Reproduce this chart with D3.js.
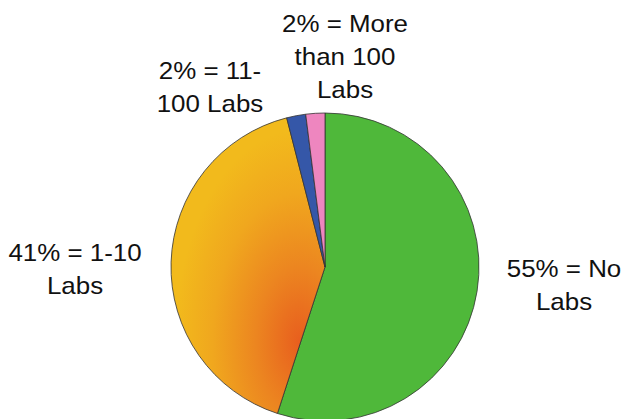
<!DOCTYPE html>
<html><head><meta charset="utf-8">
<script src="https://cdn.jsdelivr.net/npm/d3@7"></script>
<style>html,body{margin:0;padding:0;background:#fff;}svg{display:block;}</style>
</head><body>
<svg id="c" width="623" height="419"></svg>
<script>
const categories = ["No Labs", "1-10 Labs", "11-100 Labs", "More than 100 Labs"];
const values = [55, 41, 2, 2];
const labelLines = [
  ["55% = No", "Labs"],
  ["41% = 1-10", "Labs"],
  ["2% = 11-", "100 Labs"],
  ["2% = More", "than 100", "Labs"]
];
const colors = ["#4FB83A", "url(#og)", "#3557A8", "#EE86BF"];

const svg = d3.select("#c");
const cx = 325, cy = 267, r = 154;

const defs = svg.append("defs");
// coordinates relative to pie centre (gradient is used inside translated group)
const g0 = defs.append("radialGradient").attr("id", "og")
  .attr("gradientUnits", "userSpaceOnUse")
  .attr("cx", 0).attr("cy", 0).attr("r", 125)
  .attr("gradientTransform", "translate(-25,75) scale(1,1.7)");
g0.append("stop").attr("offset", "0").attr("stop-color", "#E85E1E");
g0.append("stop").attr("offset", "0.35").attr("stop-color", "#EC8520");
g0.append("stop").attr("offset", "0.7").attr("stop-color", "#F0A71E");
g0.append("stop").attr("offset", "1").attr("stop-color", "#F2BA1C");

const pie = d3.pie().sort(null).value(d => d);
const arc = d3.arc().innerRadius(0).outerRadius(r);

const g = svg.append("g").attr("transform", `translate(${cx},${cy})`);
g.selectAll("path").data(pie(values)).join("path")
  .attr("d", arc)
  .attr("fill", (d, i) => colors[i])
  .attr("stroke", "#333")
  .attr("stroke-width", 0.8);

// label anchor positions (center x, first baseline y)
const labelPos = [[564, 277], [75, 261], [210, 79], [345, 32]];
const lineH = 33;
labelLines.forEach((lines, i) => {
  const t = svg.append("text")
    .attr("font-family", "Liberation Sans, Arial, sans-serif")
    .attr("font-size", 24)
    .attr("fill", "#111")
    .attr("text-anchor", "middle")
    .attr("transform", `translate(${labelPos[i][0]},${labelPos[i][1]}) scale(1.08,1)`);
  lines.forEach((s, j) => {
    t.append("tspan").attr("x", 0).attr("y", j * lineH).text(s);
  });
});
</script>
</body></html>
